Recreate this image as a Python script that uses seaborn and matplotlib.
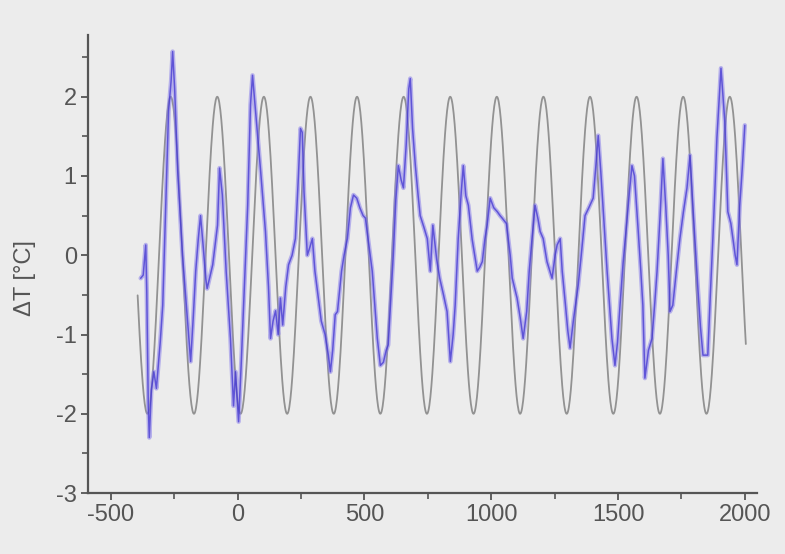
#!/usr/bin/env python3
"""Temperature anomaly reconstruction vs. fitted cycle."""

import matplotlib

matplotlib.use("Agg")

import matplotlib.pyplot as plt
import numpy as np
import pandas as pd
import seaborn as sns
from matplotlib.ticker import MultipleLocator

# reconstructed anomaly (blue)
YEARS = [
    -382, -372, -362, -358, -352, -348, -340, -330, -320, -305, -295, -283, -272, -262,
    -256, -248, -236, -217, -197, -185, -175, -165, -155, -146, -136, -125, -120, -98,
    -79, -71, -60, -45, -28, -16, -8, 4, 14, 24, 40, 51, 59, 71, 91, 110, 122, 130, 140,
    150, 160, 169, 178, 190, 201, 215, 228, 240, 248, 255, 262, 275, 285, 295, 305, 315,
    330, 345, 358, 366, 375, 385, 394, 410, 420, 433, 445, 457, 470, 482, 495, 504, 515,
    531, 545, 551, 563, 575, 586, 594, 605, 614, 624, 634, 645, 654, 665, 675, 681, 690,
    701, 712, 720, 735, 748, 760, 770, 785, 797, 812, 826, 839, 850, 858, 870, 882, 890,
    900, 910, 925, 945, 955, 965, 975, 984, 996, 1010, 1024, 1035, 1043, 1060, 1075,
    1083, 1102, 1115, 1126, 1140, 1150, 1161, 1173, 1185, 1193, 1205, 1220, 1240, 1252,
    1260, 1272, 1280, 1292, 1302, 1311, 1325, 1343, 1355, 1370, 1385, 1402, 1412, 1422,
    1432, 1445, 1457, 1466, 1476, 1488, 1498, 1508, 1520, 1535, 1545, 1555, 1565, 1579,
    1590, 1598, 1606, 1620, 1634, 1645, 1654, 1666, 1677, 1688, 1698, 1705, 1716, 1730,
    1744, 1758, 1772, 1784, 1795, 1815, 1825, 1835, 1854, 1864, 1874, 1883, 1890, 1906,
    1921, 1933, 1945, 1953, 1962, 1969, 1980, 1990, 2000,
]
DELTA_T = [
    -0.29, -0.25, 0.13, -0.45, -1.90, -2.30, -1.70, -1.47, -1.68, -1.10, -0.63, 0.63, 1.82, 2.20,
    2.57, 2.10, 1.06, 0.00, -0.83, -1.34, -0.80, -0.20, 0.20, 0.50, 0.13, -0.30, -0.42, -0.12,
    0.38, 1.10, 0.76, -0.20, -1.05, -1.90, -1.47, -2.10, -1.40, -0.63, 0.63, 1.90, 2.27, 1.82, 1.06, 0.30, -0.40, -1.05, -0.83,
    -0.70, -1.00, -0.54, -0.88, -0.40, -0.12, 0.00, 0.21, 1.00, 1.60, 1.55, 0.80, 0.00, 0.10, 0.21, -0.20, -0.45,
    -0.83, -1.00, -1.26, -1.47, -1.20, -0.75, -0.71, -0.20, 0.00, 0.21, 0.60, 0.76, 0.72, 0.60, 0.50, 0.47, 0.20,
    -0.20, -0.80, -1.05, -1.39, -1.35, -1.20, -1.13, -0.50, 0.00, 0.70, 1.13, 0.95, 0.85, 1.40, 2.10, 2.23, 1.60,
    1.13, 0.75, 0.50, 0.35, 0.21, -0.20, 0.38, -0.05, -0.29, -0.50, -0.71, -1.34, -1.00, -0.63, 0.21, 0.80, 1.13,
    0.75, 0.63, 0.20, -0.20, -0.15, -0.08, 0.20, 0.38, 0.72, 0.60, 0.55, 0.50, 0.47, 0.40, 0.00,
    -0.29, -0.54, -0.80, -1.05, -0.71, -0.20, 0.21, 0.63, 0.45, 0.30, 0.21, -0.08, -0.29, 0.00,
    0.13, 0.21, -0.20, -0.60, -0.95, -1.17, -0.80, -0.38, 0.00, 0.50, 0.60, 0.72, 1.10, 1.51,
    1.06, 0.40, -0.20, -0.60, -1.05, -1.39, -1.10, -0.63, -0.10, 0.43, 0.80, 1.13, 1.00, 0.34,
    -0.20, -0.63, -1.55, -1.20, -1.05, -0.60, -0.20, 0.50, 1.22, 0.63, 0.00, -0.71, -0.63, -0.20,
    0.21, 0.55, 0.85, 1.26, 0.63, -0.42, -0.90, -1.26, -1.26, -0.50, 0.21, 0.90, 1.48, 2.36,
    1.69, 0.55, 0.40, 0.21, 0.00, -0.12, 0.63, 1.10, 1.64,
]

# fitted cycle (grey): amplitude, period and peak year
CYCLE_AMPLITUDE = 2.0
CYCLE_PERIOD = 183.7
CYCLE_PEAK_YEAR = -80.0
CYCLE_START, CYCLE_END = -394, 2004

X_TICKS = [-500, 0, 500, 1000, 1500, 2000]
Y_TICKS = [-3, -2, -1, 0, 1, 2]

BG = "#ececec"
AXIS_GREY = "#555555"


def main() -> int:
    sns.set_theme(style="ticks")
    plt.rcParams["font.family"] = ["Liberation Sans", "DejaVu Sans"]
    plt.rcParams["axes.unicode_minus"] = False

    recon = pd.DataFrame({"year": YEARS, "dt": DELTA_T})
    cycle_years = np.linspace(CYCLE_START, CYCLE_END, 1200)
    cycle = pd.DataFrame(
        {
            "year": cycle_years,
            "dt": CYCLE_AMPLITUDE
            * np.cos(2 * np.pi * (cycle_years - CYCLE_PEAK_YEAR) / CYCLE_PERIOD),
        }
    )

    fig = plt.figure(figsize=(7.85, 5.54), dpi=100, facecolor=BG)
    ax = fig.add_axes([0.112, 0.110, 0.852, 0.827], facecolor=BG)

    sns.lineplot(data=cycle, x="year", y="dt", ax=ax, color="#929292", linewidth=1.3,
                 estimator=None, sort=False)
    sns.lineplot(data=recon, x="year", y="dt", ax=ax, color="#8a80ea", linewidth=3.2,
                 alpha=0.55, estimator=None, sort=False)
    sns.lineplot(data=recon, x="year", y="dt", ax=ax, color="#3b2ed0", linewidth=1.1,
                 alpha=0.7, estimator=None, sort=False)

    ax.set_xlim(-590, 2047)
    ax.set_ylim(-3, 2.78)
    ax.set_xticks(X_TICKS)
    ax.set_yticks(Y_TICKS)
    ax.xaxis.set_minor_locator(MultipleLocator(250))
    ax.yaxis.set_minor_locator(MultipleLocator(0.5))
    ax.tick_params(which="major", direction="out", length=5, width=1.3,
                   color=AXIS_GREY, labelcolor=AXIS_GREY, labelsize=17, pad=3)
    ax.tick_params(which="minor", direction="out", length=4, width=1.2, color=AXIS_GREY)

    sns.despine(ax=ax)
    for side in ("left", "bottom"):
        ax.spines[side].set_color(AXIS_GREY)
        ax.spines[side].set_linewidth(1.6)

    ax.set_xlabel("")
    ax.set_ylabel("ΔT [°C]", fontsize=17, color=AXIS_GREY)
    ax.yaxis.set_label_coords(-0.077, 0.47)

    fig.savefig("out.png", dpi=100, facecolor=BG)
    plt.close(fig)
    return 0


if __name__ == "__main__":
    raise SystemExit(main())
